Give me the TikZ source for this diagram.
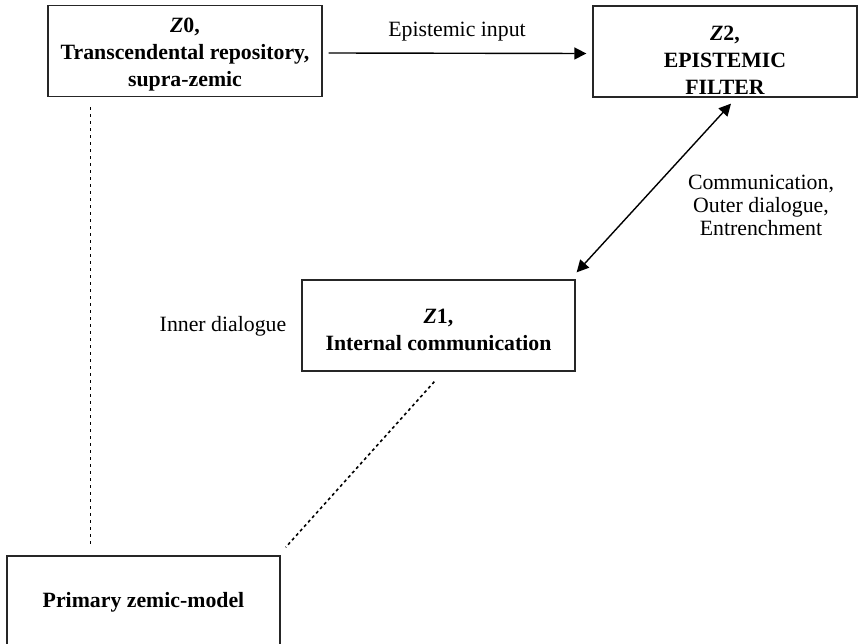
\documentclass[tikz,border=0pt]{standalone}
\usepackage{fontspec}
\setmainfont{Liberation Serif}
\usetikzlibrary{arrows.meta}
\begin{document}
\begin{tikzpicture}[x=1pt,y=-1pt,
  zbox/.style={draw=black!85,line width=1.3pt,minimum width=#1,minimum height=91pt,inner sep=0pt},
  ztext/.style={align=center,font=\fontsize{21.8}{27}\selectfont\bfseries,inner sep=0pt},
  note/.style={align=center,font=\fontsize{21.8}{23}\selectfont,inner sep=0pt},
  tip/.style={Triangle[length=12pt,width=12pt]},
  link/.style={line width=1.4pt,-{Triangle[length=12pt,width=12pt]}},
  duallink/.style={line width=1.4pt,{Triangle[length=12pt,width=12pt]}-{Triangle[length=12pt,width=12pt]}},
  tie/.style={line width=1.6pt,dash pattern=on 3pt off 4pt},
  fine tie/.style={line width=1.6pt,dash pattern=on 3pt off 3pt}]
\useasboundingbox (0,0) rectangle (860,644);
\fill[white] (0,0) rectangle (860,644);
\clip (0,0) rectangle (860,644);

% boxes
\node[zbox=274pt] (z0) at (185,51) {};
\node[ztext] (z0t) at (185,54.5) {\textit{Z}0,\\Transcendental repository,\\supra-zemic};
\node[zbox=264pt] (z2) at (725,51.5) {};
\node[ztext] (z2t) at (725,60) {\textit{Z}2,\\EPISTEMIC\\FILTER};
\node[zbox=273pt] (z1) at (438.5,325.5) {};
\node[ztext] (z1t) at (438.5,330) {\textit{Z}1,\\Internal communication};
\node[zbox=273pt,minimum height=92pt] (prim) at (143.5,602) {};
\node[ztext] (primt) at (143.5,602) {Primary zemic-model};

% connectors
\draw[link] ([yshift=-2pt,xshift=6pt]z0.east) -- ([yshift=-2pt,xshift=-6pt]z2.west);
\draw[duallink] ([xshift=6pt,yshift=-6pt]z2.south) -- ([xshift=1pt,yshift=7pt]z1.north east);
\draw[tie] ([xshift=43pt,yshift=-10pt]z0.south west) -- ([xshift=84pt,yshift=8pt]prim.north west);
\draw[fine tie] ([xshift=133pt,yshift=-10pt]z1.south west) -- ([xshift=5pt,yshift=8pt]prim.north east);

% labels
\node[note] (lin) at (457,32) {Epistemic input};
\node[note] (lcom) at (761,205) {Communication,\\Outer dialogue,\\Entrenchment};
\node[note] (linner) at (223,326) {Inner dialogue};
\end{tikzpicture}
\end{document}
